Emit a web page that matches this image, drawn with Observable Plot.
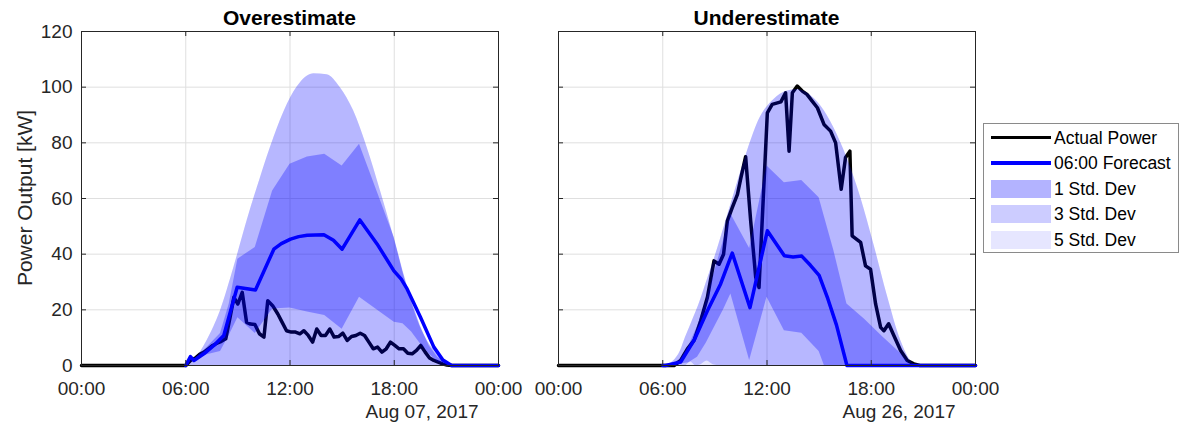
<!DOCTYPE html>
<html>
<head>
<meta charset="utf-8">
<script src="https://cdn.jsdelivr.net/npm/d3@7"></script>
<script src="https://cdn.jsdelivr.net/npm/@observablehq/plot@0.6"></script>
<style>
  body { margin: 0; background: #fff; }
  #fig { position: relative; width: 1179px; height: 425px; overflow: hidden;
         font-family: "Liberation Sans", Arial, Helvetica, sans-serif; color: #262626; }
  .abs { position: absolute; white-space: nowrap; }
  .title { font-weight: bold; font-size: 21px; line-height: 21px; color: #000; transform: translateX(-50%); }
  .date { font-size: 19px; line-height: 19px; transform: translateX(-50%); }
  .ylab { font-size: 21px; line-height: 21px; transform: translate(-50%, -50%) rotate(-90deg); }
  .legend { border: 1px solid #8a8a8a; background: #fff; box-sizing: border-box; }
  .legend .txt { font-size: 17.5px; line-height: 18px; color: #000; }
</style>
</head>
<body>
<div id="fig"></div>
<script>
// ---------- shared labels / ticks ----------
const TICK_HOURS = [0, 6, 12, 18, 24];
const Y_TICKS = [0, 20, 40, 60, 80, 100, 120];
const PANEL_TITLES = ["Overestimate", "Underestimate"];
const DATE_LABELS = ["Aug 07, 2017", "Aug 26, 2017"];
const Y_LABEL = "Power Output [kW]";
const LEGEND_LABELS = ["Actual Power", "06:00 Forecast", "1 Std. Dev", "3 Std. Dev", "5 Std. Dev"];

// ---------- Aug 07 (Overestimate) ----------
const aug07ActualHour = [0, 6.0, 6.3, 6.55, 6.8, 7.05, 7.3, 7.55, 7.8, 8.05, 8.3, 8.55, 8.77, 9.0, 9.25, 9.5, 9.73, 9.98, 10.24, 10.5, 10.72, 11.0, 11.3, 11.55, 11.8, 12.07, 12.32, 12.57, 12.8, 13.05, 13.3, 13.54, 13.79, 14.04, 14.29, 14.54, 14.79, 15.04, 15.29, 15.54, 15.79, 16.04, 16.29, 16.54, 16.79, 17.04, 17.29, 17.54, 17.78, 18.03, 18.28, 18.53, 18.78, 19.03, 19.28, 19.53, 19.78, 20.03, 20.28, 20.53, 20.78, 21.03, 21.33, 24];
const aug07ActualKW   = [0, 0, 2, 2.7, 4, 4.8, 6, 7.2, 8, 8.7, 9.6, 17.3, 24.5, 22.1, 26.3, 15.5, 14.9, 14.7, 11.4, 10.2, 23.3, 21.5, 18.5, 15.5, 12.5, 12, 12, 11.4, 12.5, 10.8, 8.4, 13.1, 10.8, 10.8, 13.1, 10.2, 10.4, 11.6, 9, 10.4, 10.8, 11.6, 10.8, 8.4, 6, 6.6, 4.8, 6, 8.4, 7.2, 6, 6, 4.4, 4.2, 5.4, 7.2, 4.8, 2.7, 1.8, 1.2, 0.6, 0.2, 0, 0];
const aug07ForecastHour = [6.0, 6.27, 6.47, 7.04, 7.62, 8.19, 8.96, 10.01, 11.07, 11.5, 12.03, 12.5, 12.99, 13.95, 14.5, 15.0, 16.02, 17.02, 17.98, 18.4, 18.74, 19.51, 20.28, 20.8, 21.3, 24];
const aug07ForecastKW   = [0, 3.2, 1.8, 4.2, 7.2, 10.8, 28.1, 27.1, 41.8, 43.8, 45.4, 46.3, 46.8, 47, 45, 41.8, 52.3, 43.6, 34, 31, 27.5, 17.3, 6.6, 2, 0, 0];
const aug07EnvHour = [6.0, 6.47, 7.23, 8.0, 8.77, 9.53, 10.3, 11.07, 11.84, 12.6, 13.37, 14.14, 14.9, 15.67, 16.44, 17.21, 17.98, 18.74, 19.51, 20.28, 21.05, 21.33];
const aug07EnvKW   = [0, 1.8, 9, 19.7, 35.2, 52, 67.5, 81.8, 93.8, 101.6, 104.8, 104.5, 99.8, 91.4, 78.3, 62.7, 46, 28.1, 13.7, 5.4, 0.6, 0];
const aug07Std3LoKW = [0, 0, 0, 0, 0, 0, 0, 0, 0, 0, 0, 0, 0, 0, 0, 0, 0, 0, 0, 0, 0, 0];
const aug07Std1Hour = [6.0, 7.0, 8.0, 8.5, 9.0, 10.0, 11.0, 12.0, 13.0, 14.0, 15.0, 16.0, 18.0, 18.5, 19.0, 19.5, 20.0, 20.5, 21.2];
const aug07Std1HiKW = [0, 5, 11.5, 22, 38.2, 42.4, 62.7, 72.3, 74.9, 75.9, 71.7, 79.5, 46, 34, 23.3, 14.3, 7.2, 3, 0];
const aug07Std1LoKW = [0, 3.5, 5, 10.8, 17.2, 11.5, 20.3, 20.7, 19.2, 18, 13, 24.5, 15.5, 15, 12, 7.8, 4.2, 1.2, 0];

// ---------- Aug 26 (Underestimate) ----------
const aug26ActualHour = [0, 6.0, 6.65, 7.03, 7.42, 7.8, 8.18, 8.57, 8.95, 9.24, 9.5, 9.72, 10.0, 10.3, 10.5, 10.77, 11.06, 11.35, 11.54, 12.02, 12.3, 12.8, 13.07, 13.27, 13.46, 13.74, 14.03, 14.3, 14.6, 14.9, 15.28, 15.66, 15.95, 16.27, 16.52, 16.77, 16.9, 17.39, 17.67, 17.96, 18.25, 18.54, 18.73, 19.0, 19.3, 19.69, 20.07, 20.45, 20.8, 24];
const aug26ActualKW   = [0, 0, 0, 1.8, 6, 9, 16, 24.5, 37.6, 36.4, 40, 52, 56.7, 61.5, 67.5, 75, 52, 31.7, 28, 90.8, 93.8, 94.7, 98, 77, 98, 100.4, 98.6, 97.4, 95, 92.6, 86.6, 84.2, 80, 63.3, 74.7, 77, 46.6, 44.2, 35.8, 34.6, 22.1, 13.7, 12.5, 15, 10.8, 5.4, 1.8, 0.6, 0, 0];
const aug26ForecastHour = [6.0, 6.15, 7.03, 7.8, 8.57, 9.33, 10.0, 11.02, 12.02, 12.5, 13.0, 13.5, 14.0, 14.5, 15.0, 15.5, 16.0, 16.6, 24];
const aug26ForecastKW   = [0, 0, 1.2, 9, 19.7, 29.3, 40.4, 20.8, 48.4, 44, 39.4, 39, 39.3, 36, 32.4, 24, 14.5, 0, 0];
const aug26EnvHour = [6.2, 6.6, 7.03, 7.3, 7.6, 7.9, 8.2, 8.55, 8.9, 9.33, 10.1, 10.87, 11.6, 12.4, 13.17, 13.74, 14.3, 15.1, 15.85, 16.6, 17.4, 18.15, 18.9, 19.7, 20.26, 20.6];
const aug26EnvKW   = [0, 1.5, 5.4, 10, 14.5, 19, 24, 30.5, 37, 45.5, 61.5, 77, 89, 95.6, 98.6, 99.2, 98, 93.2, 85.4, 74.7, 60.3, 43.6, 25.7, 9, 1.8, 0];
const aug26Std3LoKW = [0, 0, 0, 0, 1.3, 0, 0.3, 1.6, 0.3, 0, 0, 0, 0, 0, 0, 0, 0, 0, 0, 0, 0, 0, 0, 0, 0, 0];
const aug26Std1Hour = [6.2, 7.0, 7.5, 8.0, 8.5, 9.0, 9.5, 9.92, 11.0, 12.0, 13.0, 14.0, 15.0, 15.3, 15.85, 16.6, 17.6, 18.7, 19.7, 20.3];
const aug26Std1HiKW = [0, 2, 7, 14, 23, 34, 45, 54.4, 42, 71.7, 65.7, 66.5, 60.3, 53.5, 41.2, 22.1, 16.7, 10.1, 4.3, 0];
const aug26Std1LoKW = [0, 0.5, 1, 3, 8, 14, 20, 25.7, 1.8, 24.5, 12.5, 11.6, 5, 0, 0, 0, 0, 0, 0, 0];

// ---------- helpers ----------
const fmtHour = h => `${String(h % 24).padStart(2, "0")}:00`;
const pts = (hs, vs) => hs.map((h, i) => ({h, v: vs[i]}));
const band = (hs, lo, hi) => hs.map((h, i) => ({h, lo: lo[i], hi: hi[i]}));

const panels = [
  {
    actual: pts(aug07ActualHour, aug07ActualKW),
    forecast: pts(aug07ForecastHour, aug07ForecastKW),
    env: band(aug07EnvHour, aug07Std3LoKW, aug07EnvKW),
    std1: band(aug07Std1Hour, aug07Std1LoKW, aug07Std1HiKW),
    yLabels: true,
    box: {left: 0, width: 510, marginLeft: 81, marginRight: 12}
  },
  {
    actual: pts(aug26ActualHour, aug26ActualKW),
    forecast: pts(aug26ForecastHour, aug26ForecastKW),
    env: band(aug26EnvHour, aug26Std3LoKW, aug26EnvKW),
    std1: band(aug26Std1Hour, aug26Std1LoKW, aug26Std1HiKW),
    yLabels: false,
    box: {left: 520, width: 460, marginLeft: 38, marginRight: 5}
  }
];

const fig = document.getElementById("fig");
const H = 425, MT = 31, MB = 60;
const TICK_LEN = 5;
const AXIS = "#262626";

panels.forEach((p, k) => {
  const pw = p.box.width - p.box.marginLeft - p.box.marginRight;
  const ph = H - MT - MB;
  const marks = [
    Plot.gridX(TICK_HOURS, {stroke: "#dfdfdf", strokeOpacity: 1}),
    Plot.gridY(Y_TICKS, {stroke: "#dfdfdf", strokeOpacity: 1}),
    Plot.line(p.actual, {x: "h", y: "v", stroke: "#000", strokeWidth: 3.5, strokeLinejoin: "round"}),
    Plot.line(p.forecast, {x: "h", y: "v", stroke: "#0000ff", strokeWidth: 3.5, strokeLinejoin: "round"}),
    // 5 Std. Dev band (0 .. envelope)
    Plot.areaY(p.env, {x: "h", y1: 0, y2: "hi", fill: "#0000ff", fillOpacity: 0.1, curve: "monotone-x"}),
    // 3 Std. Dev band
    Plot.areaY(p.env, {x: "h", y1: "lo", y2: "hi", fill: "#0000ff", fillOpacity: 0.2, curve: "monotone-x"}),
    // 1 Std. Dev band
    Plot.areaY(p.std1, {x: "h", y1: "lo", y2: "hi", fill: "#0000ff", fillOpacity: 0.3}),
    Plot.frame({stroke: AXIS, strokeWidth: 1}),
    Plot.tickY(Y_TICKS, {y: d => d, stroke: AXIS, insetRight: pw - TICK_LEN}),
    Plot.tickY(Y_TICKS, {y: d => d, stroke: AXIS, insetLeft: pw - TICK_LEN}),
    Plot.tickX(TICK_HOURS, {x: d => d, stroke: AXIS, insetTop: ph - TICK_LEN}),
    Plot.tickX(TICK_HOURS, {x: d => d, stroke: AXIS, insetBottom: ph - TICK_LEN}),
    Plot.axisX({ticks: TICK_HOURS, tickFormat: fmtHour, tickSize: 0, tickPadding: 16, fill: AXIS, label: null})
  ];
  if (p.yLabels) marks.push(Plot.axisY({ticks: Y_TICKS, tickSize: 0, tickPadding: 9, fill: AXIS, label: null}));

  const svg = Plot.plot({
    width: p.box.width,
    height: H,
    marginLeft: p.box.marginLeft,
    marginRight: p.box.marginRight,
    marginTop: MT,
    marginBottom: MB,
    x: {type: "linear", domain: [0, 24], axis: null, label: null},
    y: {type: "linear", domain: [0, 120], axis: null, label: null},
    style: {fontFamily: '"Liberation Sans", Arial, Helvetica, sans-serif', fontSize: "19px",
            color: AXIS, background: "transparent", overflow: "visible"},
    marks
  });
  svg.style.position = "absolute";
  svg.style.left = p.box.left + "px";
  svg.style.top = "0px";
  svg.style.maxWidth = "none";
  fig.appendChild(svg);

  const x0 = p.box.left + p.box.marginLeft;
  const title = document.createElement("div");
  title.className = "abs title";
  title.style.left = (x0 + pw / 2) + "px";
  title.style.top = "7px";
  title.textContent = PANEL_TITLES[k];
  fig.appendChild(title);

  const date = document.createElement("div");
  date.className = "abs date";
  date.style.left = (x0 + pw - 76) + "px";
  date.style.top = "402px";
  date.textContent = DATE_LABELS[k];
  fig.appendChild(date);
});

const yl = document.createElement("div");
yl.className = "abs ylab";
yl.style.left = "24px";
yl.style.top = "198px";
yl.textContent = Y_LABEL;
fig.appendChild(yl);

// ---------- legend ----------
const legend = document.createElement("div");
legend.className = "abs legend";
legend.style.left = "983px";
legend.style.top = "123px";
legend.style.width = "196px";
legend.style.height = "130px";
fig.appendChild(legend);
const legendCenters = [13.5, 39, 64.5, 90, 115.5];
const legendStyles = [
  {type: "line", color: "#000"},
  {type: "line", color: "#0000ff"},
  {type: "rect", color: "#b3b3ff"},
  {type: "rect", color: "#ccccff"},
  {type: "rect", color: "#e6e6ff"}
];
LEGEND_LABELS.forEach((lab, i) => {
  const c = legendCenters[i];
  const s = legendStyles[i];
  const sw = document.createElement("div");
  sw.className = "abs";
  sw.style.left = "7px";
  sw.style.width = "60px";
  if (s.type === "line") {
    sw.style.top = (c - 1.75) + "px";
    sw.style.height = "3.5px";
  } else {
    sw.style.top = (c - 9) + "px";
    sw.style.height = "18px";
  }
  sw.style.background = s.color;
  legend.appendChild(sw);
  const t = document.createElement("div");
  t.className = "abs txt";
  t.style.left = "70px";
  t.style.top = (c - 9) + "px";
  t.textContent = lab;
  legend.appendChild(t);
});
</script>
</body>
</html>
